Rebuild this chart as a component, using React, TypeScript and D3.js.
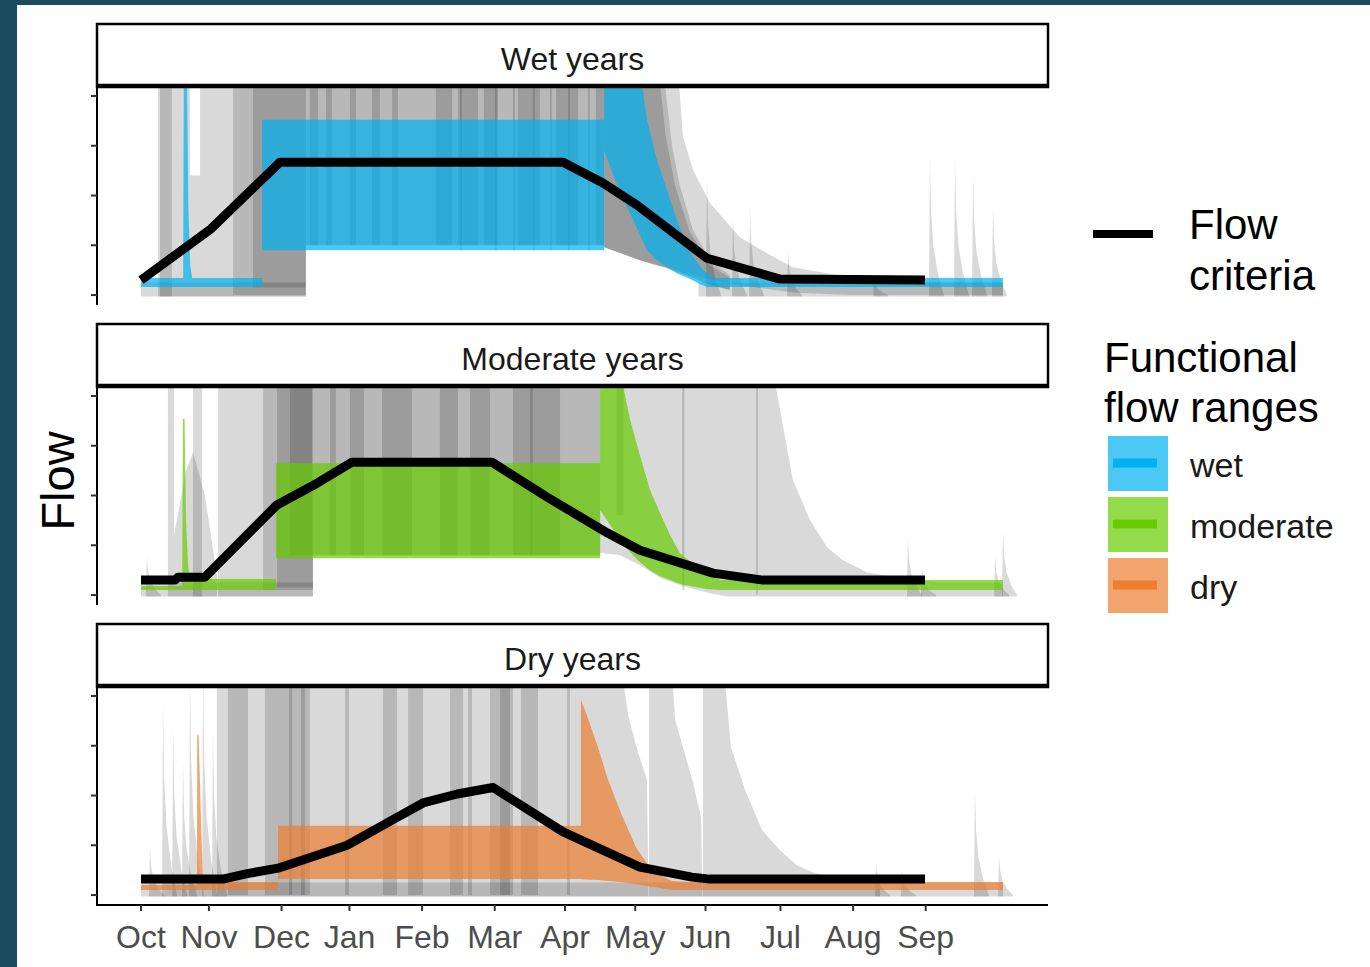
import React from 'react';
import * as d3 from 'd3';

type Pt = [number, number];
type Pt3 = [number, number, number]; // day, low, high

// x axis: day of the water year, y axis: flow (unlabelled)
const months = ['Oct', 'Nov', 'Dec', 'Jan', 'Feb', 'Mar', 'Apr', 'May', 'Jun', 'Jul', 'Aug', 'Sep'];
const monthTickDays = [0, 29, 60, 89, 120, 151, 181, 211, 241, 273, 304, 335];
const yTicks = [0, 1, 2, 3, 4];
const panelTitles = ['Wet years', 'Moderate years', 'Dry years'];
const rangeNames = ['wet', 'moderate', 'dry'];
const rangeColors = ['#00B0F0', '#66CC00', '#ED7D31'];

// flow criteria (black line)
const wetCriteria: Pt[] = [[0, 0.3], [29.9, 1.33], [59.3, 2.67], [180.2, 2.67], [197.2, 2.25], [211.7, 1.81], [241.6, 0.74], [272.8, 0.32], [334.7, 0.3]];
const moderateCriteria: Pt[] = [[0, 0.3], [14.5, 0.3], [15.8, 0.36], [27.3, 0.36], [58, 1.81], [73.4, 2.2], [90.1, 2.67], [149.8, 2.67], [173.3, 1.97], [199, 1.25], [213, 0.9], [244.2, 0.44], [265.5, 0.3], [334.7, 0.3]];
const dryCriteria: Pt[] = [[0, 0.32], [35, 0.32], [45.3, 0.43], [58.5, 0.54], [88, 1.0], [107, 1.5], [120.4, 1.85], [135, 2.03], [150.3, 2.16], [180.2, 1.27], [190.4, 1.05], [213, 0.56], [235.2, 0.36], [242.9, 0.32], [334.7, 0.32]];

// functional flow ranges
const wetRange: Pt3[] = [[0, 0.16, 0.34], [18, 0.16, 0.34], [18.3, 0.16, 4.5], [19.6, 0.16, 4.5], [20.2, 0.16, 1.8], [21, 0.16, 0.6], [21.8, 0.16, 0.34], [51.7, 0.16, 0.34], [51.7, 0.9, 3.52], [197.7, 0.9, 3.52], [197.7, 2.91, 4.5], [202.4, 2.31, 4.5], [207.5, 1.77, 4.5], [213, 1.21, 4.5], [216, 0.9, 3.52], [220.3, 0.7, 2.71], [224.6, 0.56, 2.11], [228.8, 0.44, 1.51], [234.4, 0.32, 0.86], [238.6, 0.22, 0.58], [241.6, 0.16, 0.44], [245, 0.16, 0.34], [368, 0.16, 0.34]];
const moderateRange: Pt3[] = [[0, 0.1, 0.18], [17.6, 0.1, 0.18], [17.9, 0.1, 3.54], [18.6, 0.1, 3.54], [19.2, 0.1, 1.5], [20.1, 0.1, 0.6], [20.9, 0.1, 0.32], [57.6, 0.1, 0.32], [57.6, 0.74, 2.65], [196, 0.74, 2.65], [196, 1.71, 4.5], [200.2, 1.41, 4.5], [204.5, 1.11, 4.5], [208.8, 0.86, 3.52], [213, 0.66, 2.81], [217.3, 0.5, 2.11], [221.6, 0.38, 1.65], [225.8, 0.3, 1.21], [230.1, 0.22, 0.84], [236.5, 0.16, 0.6], [241.6, 0.12, 0.46], [247.2, 0.1, 0.3], [368, 0.1, 0.3]];
const dryRange: Pt3[] = [[0, 0.1, 0.2], [23.9, 0.1, 0.2], [24, 0.1, 3.22], [24.6, 0.1, 3.22], [25.5, 0.1, 1.7], [26.3, 0.1, 0.5], [26.5, 0.1, 0.26], [58.5, 0.1, 0.26], [58.5, 0.32, 1.39], [187.8, 0.32, 1.39], [187.8, 0.32, 3.92], [190, 0.31, 3.66], [195.1, 0.3, 2.97], [199.4, 0.28, 2.31], [204.9, 0.26, 1.65], [211.3, 0.22, 0.96], [216, 0.18, 0.64], [221.6, 0.14, 0.4], [226.7, 0.1, 0.28], [234.4, 0.1, 0.26], [368, 0.1, 0.26]];

// grey envelopes of the individual years' hydrographs
const wetGrey: Pt3[][] = [
	[[0, -0.03, 0.25], [70.4, -0.03, 0.25]],
	[[238, -0.03, 0.25], [368, -0.03, 0.25]],
	[[7.3, -0.03, 4.5], [20.9, -0.03, 4.5]],
	[[20.9, -0.03, 2.4], [25.2, -0.03, 2.4]],
	[[25.2, -0.03, 4.5], [70.4, -0.03, 4.5]],
	[[8.1, -0.03, 4.5], [13.2, -0.03, 4.5]],
	[[39.3, 0, 4.5], [70.4, 0, 4.5]],
	[[47.8, 0.15, 4.5], [70.4, 0.15, 4.5]],
	[[70.4, 1.0, 4.5], [197.7, 1.0, 4.5]],
	[[70.4, 1.0, 4.5], [197.7, 1.0, 4.5]],
	[[197.7, 0.96, 4.5], [213, 0.7, 4.5], [223, 0.56, 4.5], [226.7, 0.5, 3.0], [230, 0.45, 2.2], [235.7, 0.35, 1.3], [242.9, 0.2, 0.7], [251.4, 0.1, 0.4]],
	[[197.7, 0.96, 4.5], [213, 0.7, 4.5], [221, 0.58, 4.5], [224, 0.55, 3.2], [228, 0.48, 2.2], [234, 0.38, 1.3], [242.9, 0.2, 0.6], [251.4, 0.1, 0.35]],
	[[197.7, 0.96, 4.5], [213, 0.7, 4.5], [229.3, 0.5, 4.5], [231.4, 0.45, 3.18], [235.7, 0.4, 2.51], [242.9, 0.3, 1.85], [255.7, 0.2, 1.16], [267.2, 0.12, 0.84], [278.3, 0.05, 0.56], [302.7, 0, 0.36], [324, 0, 0.26], [368, 0, 0.25]]
];
const moderateGrey: Pt3[][] = [
	[[0, -0.03, 0.25], [73.4, -0.03, 0.25]],
	[[11.5, -0.03, 4.5], [14.1, -0.03, 4.5]],
	[[14.1, -0.03, 1.2], [19.2, -0.03, 2.5], [22.2, -0.03, 2.87], [27.3, -0.03, 2.0], [32.4, -0.03, 0.4]],
	[[22.2, -0.03, 4.5], [26, -0.03, 4.5]],
	[[32.9, -0.03, 4.5], [73.4, -0.03, 4.5], [73.4, 0.8, 4.5], [196, 0.8, 4.5]],
	[[52.1, 0.1, 4.5], [73.4, 0.1, 4.5], [73.4, 0.8, 4.5], [196, 0.8, 4.5]],
	[[58.1, 0.15, 4.5], [73.4, 0.15, 4.5]],
	[[196, 0.85, 4.5], [204.5, 0.8, 4.5], [213, 0.6, 4.5], [221.6, 0.35, 4.5], [230, 0.2, 4.5], [241.6, 0.05, 4.5], [250, -0.03, 4.5], [269.8, -0.03, 4.5], [278.3, -0.03, 2.31], [285.6, -0.03, 1.51], [292.9, -0.03, 0.96], [299.7, -0.03, 0.7], [309.9, -0.03, 0.46], [324, -0.03, 0.34], [341, -0.03, 0.25], [368, -0.03, 0.25]]
];
const dryGrey: Pt3[][] = [
	[[0, -0.03, 0.25], [368, -0.03, 0.25]],
	[[32.4, -0.03, 4.5], [205.3, -0.03, 4.5], [208, -0.03, 3.6], [212, -0.03, 2.9], [216, -0.03, 2.31], [216.6, -0.03, 0.3]],
	[[216.9, -0.03, 4.5], [226.7, -0.03, 4.5], [228, -0.03, 3.52], [235.4, -0.03, 2.31], [239.1, -0.03, 1.57], [239.6, -0.03, 0.3]],
	[[239.9, -0.03, 4.5], [248.9, -0.03, 4.5], [251.9, -0.03, 2.97], [257.9, -0.03, 2.11], [265.1, -0.03, 1.31], [272.8, -0.03, 0.9], [280, -0.03, 0.6], [287.7, -0.03, 0.44], [300, -0.03, 0.32], [315.5, -0.03, 0.22]]
];

// extra high-flow bands [start day, end day, low]
const wetStripes: Pt3[] = [[72.1, 75.6, 1], [79, 81.5, 1], [89.2, 91.8, 1], [98.6, 102, 1], [107.2, 109.7, 1], [125.9, 132.8, 1], [135.3, 143.9, 1], [146.4, 152.4, 1], [160.9, 170.3, 1], [177.2, 186.6, 1], [194.2, 197.7, 1], [136.2, 137, 0.9], [151.1, 151.9, 0.9], [158.8, 159.6, 0.9], [167.3, 168.1, 0.9], [174.6, 175.4, 0.9], [182.3, 183.1, 0.9], [190.8, 191.6, 0.9]];
const moderateStripes: Pt3[] = [[63.6, 73, 0.8], [80.7, 83.2, 0.8], [89.2, 95.2, 0.8], [102.9, 115.7, 0.8], [127.6, 135.3, 0.8], [140.5, 149, 0.8], [158.8, 167.3, 0.8], [166.1, 178.9, 0.8], [203, 206, 1.6], [231, 232, 0.1], [262.6, 263.4, 0]];
const dryStripes: Pt3[] = [[37.1, 45.7, 0], [52.9, 72.1, 0], [63.2, 64.5, 0], [68.3, 70, 0], [87.1, 88.8, 0], [103.3, 109.3, 0], [114, 120.4, 0], [131.9, 137.5, 0], [139.6, 141.3, 0], [149, 158.8, 0], [153.3, 157.5, 0], [162.2, 169.5, 0], [181.9, 183.1, 0]];

// short storm peaks [day, peak]
const wetSpikes: Pt[] = [[241.6, 2.37], [252.7, 1.57], [260, 1.77], [276.2, 0.9], [313, 0.35], [336.8, 2.77], [347.5, 2.81], [355.2, 2.47], [363.7, 1.81]];
const moderateSpikes: Pt[] = [[2.5, 0.8], [327.4, 1.17], [333.4, 0.56], [364.6, 0.8], [368, 1.31]];
const drySpikes: Pt[] = [[3.8, 0.96], [9.4, 3.92], [13.7, 3.38], [17.9, 2.7], [20.9, 4.5], [26.5, 4.5], [30.7, 3.26], [313.8, 0.64], [324.8, 0.5], [356, 2.17], [366.3, 0.8]];

const panels = [
	{ grey: wetGrey, stripes: wetStripes, spikes: wetSpikes, range: wetRange, criteria: wetCriteria },
	{ grey: moderateGrey, stripes: moderateStripes, spikes: moderateSpikes, range: moderateRange, criteria: moderateCriteria },
	{ grey: dryGrey, stripes: dryStripes, spikes: drySpikes, range: dryRange, criteria: dryCriteria }
];

const W = 1370;
const H = 967;
const plotLeft = 97;
const plotRight = 1048;
const panelTops = [87, 387, 687];
const plotH = 218;
const stripH = 63;
const font = '"Liberation Sans", Arial, sans-serif';
const spikeShape = [[-0.4, 0], [0, 1], [0.5, 0.6], [1.5, 0.35], [3.5, 0.15], [6, 0]];

const x = d3.scaleLinear().domain([0, 368]).range([141, 1003]);

const Panel = ({ i }: { i: number }) => {
	const p = panels[i];
	const top = panelTops[i];
	const y = d3.scaleLinear().domain([-0.2, 4.18]).range([top + plotH, top]);
	const area = d3
		.area<Pt3>()
		.x(d => x(d[0]))
		.y0(d => y(d[1]))
		.y1(d => y(d[2]));
	const line = d3
		.line<Pt>()
		.x(d => x(d[0]))
		.y(d => y(d[1]));
	const spikeRib = (s: Pt): Pt3[] => spikeShape.map(([dd, f]) => [s[0] + dd, -0.03, f * s[1]]);

	return (
		<g>
			<defs>
				<clipPath id={`clip-${i}`}>
					<rect x={plotLeft} y={top} width={plotRight - plotLeft} height={plotH} />
				</clipPath>
			</defs>
			<g clipPath={`url(#clip-${i})`}>
				{p.grey.map((r, k) => (
					<path key={'g' + k} d={area(r) || ''} fill="#000" fillOpacity={0.15} />
				))}
				{p.stripes.map((s, k) => (
					<rect
						key={'s' + k}
						x={x(s[0])}
						width={x(s[1]) - x(s[0])}
						y={y(4.5)}
						height={y(s[2]) - y(4.5)}
						fill="#000"
						fillOpacity={0.15}
					/>
				))}
				{p.spikes.map((s, k) => (
					<path key={'k' + k} d={area(spikeRib(s)) || ''} fill="#000" fillOpacity={0.15} />
				))}
				<path d={area(p.range) || ''} fill={rangeColors[i]} fillOpacity={0.7} />
				<path d={line(p.criteria) || ''} fill="none" stroke="#000" strokeWidth={9} strokeLinejoin="round" />
			</g>
			{/* left axis */}
			<line x1={plotLeft} x2={plotLeft} y1={top} y2={top + plotH} stroke="#000" strokeWidth={2} />
			{yTicks.map(t => (
				<line key={t} x1={plotLeft - 6} x2={plotLeft} y1={y(t)} y2={y(t)} stroke="#333" strokeWidth={2} />
			))}
			{/* strip */}
			<rect x={plotLeft} y={top - stripH} width={plotRight - plotLeft} height={stripH} fill="#fff" stroke="#000" strokeWidth={2.5} />
			<line x1={plotLeft} x2={plotRight + 1} y1={top - 1.5} y2={top - 1.5} stroke="#000" strokeWidth={3.5} />
			<text x={(plotLeft + plotRight) / 2} y={top - 17} textAnchor="middle" fontSize={32} fill="#1a1a1a" fontFamily={font}>
				{panelTitles[i]}
			</text>
		</g>
	);
};

const App = () => {
	const axisY = panelTops[2] + plotH;
	const legendKeyTops = [436, 497, 558];
	const legendTextY = [477, 538, 599];

	return (
		<svg width={W} height={H} style={{ position: 'absolute', left: 0, top: 0 }} fontFamily={font}>
			<rect x={0} y={0} width={W} height={H} fill="#1b4b5f" />
			<rect x={17} y={5} width={W - 17} height={H - 5} fill="#fff" />

			{panels.map((_, i) => (
				<Panel key={i} i={i} />
			))}

			{/* bottom axis */}
			<line x1={plotLeft - 1} x2={plotRight} y1={axisY} y2={axisY} stroke="#000" strokeWidth={2} />
			{monthTickDays.map((d, k) => (
				<g key={months[k]}>
					<line x1={x(d)} x2={x(d)} y1={axisY} y2={axisY + 6} stroke="#333" strokeWidth={2} />
					<text x={x(d)} y={948} textAnchor="middle" fontSize={32} fill="#4d4d4d">
						{months[k]}
					</text>
				</g>
			))}

			<text transform="translate(74,481) rotate(-90)" textAnchor="middle" fontSize={47} fill="#000">
				Flow
			</text>

			{/* legend */}
			<line x1={1093} x2={1153} y1={234} y2={234} stroke="#000" strokeWidth={8} />
			<text x={1189} y={239} fontSize={42} fill="#000">Flow</text>
			<text x={1189} y={290} fontSize={42} fill="#000">criteria</text>
			<text x={1104} y={372} fontSize={42} fill="#000">Functional</text>
			<text x={1104} y={422} fontSize={42} fill="#000">flow ranges</text>
			{rangeNames.map((n, k) => (
				<g key={n}>
					<rect x={1108} y={legendKeyTops[k]} width={60} height={55} fill={rangeColors[k]} fillOpacity={0.7} />
					<line
						x1={1113}
						x2={1157}
						y1={legendKeyTops[k] + 27}
						y2={legendKeyTops[k] + 27}
						stroke={rangeColors[k]}
						strokeWidth={9}
					/>
					<text x={1190} y={legendTextY[k]} fontSize={34} fill="#1a1a1a">
						{n}
					</text>
				</g>
			))}
		</svg>
	);
};

export default App;
